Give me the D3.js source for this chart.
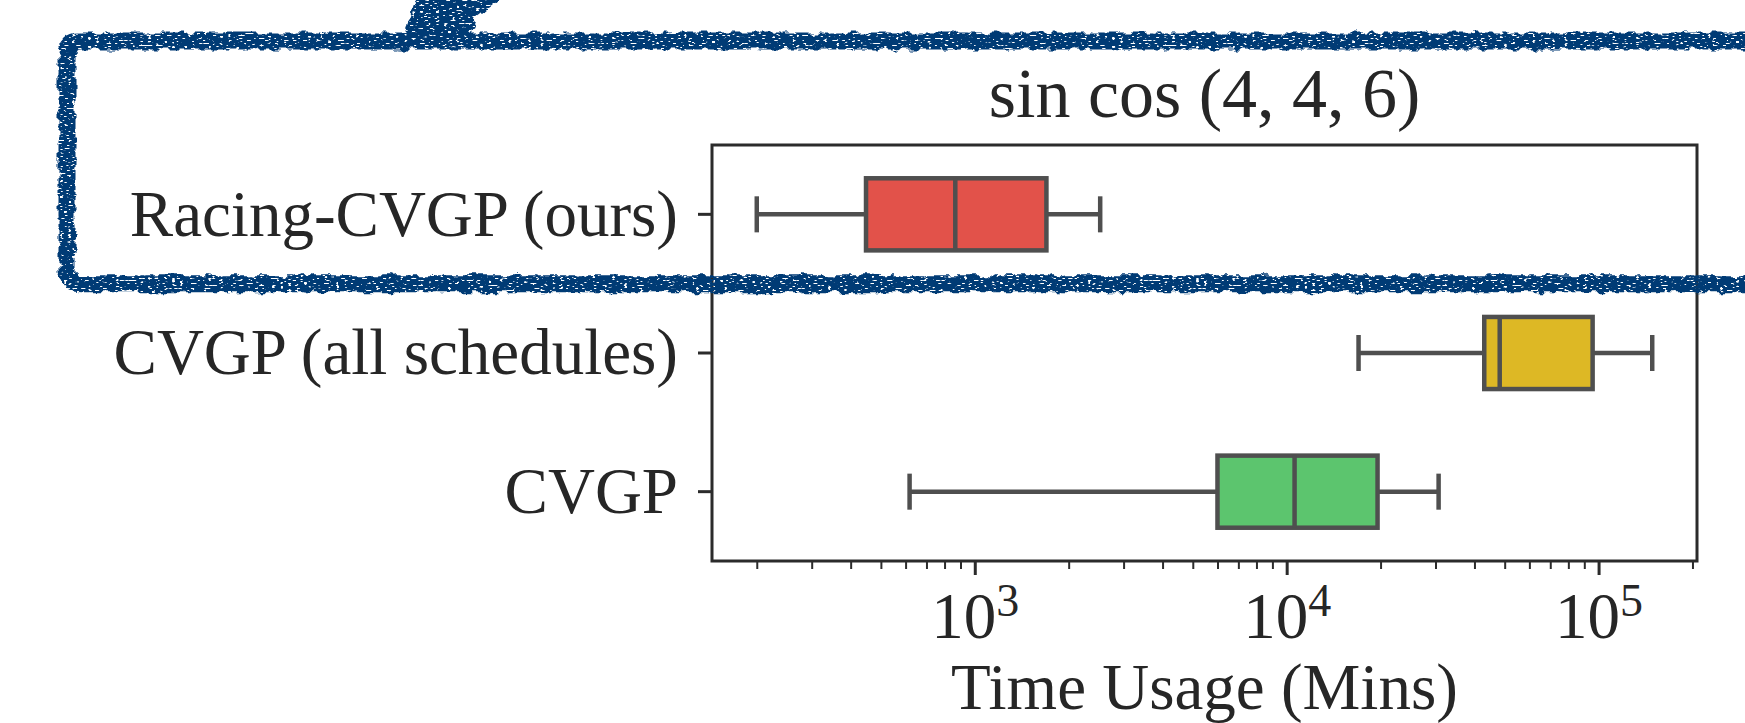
<!DOCTYPE html>
<html>
<head>
<meta charset="utf-8">
<script src="https://cdn.jsdelivr.net/npm/d3@7/dist/d3.min.js"></script>
<style>
    body { margin: 0; background: #ffffff; }
    svg { display: block; }
    text { font-family: "Liberation Serif", "Times New Roman", serif; fill: #262626; }
</style>
</head>
<body>
<div id="chart"></div>
<script>
// box statistics (minutes)
var categories = ['Racing-CVGP (ours)', 'CVGP (all schedules)', 'CVGP'];
var whiskerLow = [200, 17000, 618];
var q1 = [448, 43000, 6000];
var median = [866, 48200, 10600];
var q3 = [1697, 95700, 19560];
var whiskerHigh = [2524, 148600, 30700];
var majorTicks = [1e3, 1e4, 1e5];
var majorExponents = ['3', '4', '5'];
var palette = ['#e2524a', '#ddb825', '#5cc56e'];

var chartTitle = 'sin cos (4, 4, 6)';
var xTitle = 'Time Usage (Mins)';

var width = 1745, height = 723;
var margin = { left: 712, right: 48, top: 145, bottom: 162 };
var lineColor = '#4f4f4f';
var spineColor = '#2b2b2b';
var navy = '#003a75';

var data = categories.map(function (c, i) {
    return { name: c, lo: whiskerLow[i], q1: q1[i], med: median[i], q3: q3[i], hi: whiskerHigh[i], color: palette[i] };
});

// matplotlib-like 5% margin on a log axis
var logMin = Math.log10(d3.min(whiskerLow));
var logMax = Math.log10(d3.max(whiskerHigh));
var pad = (logMax - logMin) * 0.05;

var x = d3.scaleLog()
.domain([Math.pow(10, logMin - pad), Math.pow(10, logMax + pad)])
.range([margin.left, width - margin.right]);

var y = d3.scaleBand()
.domain(categories)
.range([margin.top, height - margin.bottom]);

var boxH = y.bandwidth() * 0.52;

var svg = d3.select('#chart').append('svg')
.attr('width', width)
.attr('height', height);

// rough marker texture for the highlight
var defs = svg.append('defs');
var filter = defs.append('filter')
.attr('id', 'rough')
.attr('filterUnits', 'userSpaceOnUse')
.attr('x', 0).attr('y', 0).attr('width', width).attr('height', height);
filter.append('feTurbulence')
.attr('type', 'fractalNoise')
.attr('baseFrequency', 0.1)
.attr('numOctaves', 2)
.attr('seed', 4)
.attr('result', 'noise');
filter.append('feDisplacementMap')
.attr('in', 'SourceGraphic')
.attr('in2', 'noise')
.attr('scale', 9)
.attr('xChannelSelector', 'R')
.attr('yChannelSelector', 'G')
.attr('result', 'disp');
filter.append('feTurbulence')
.attr('type', 'fractalNoise')
.attr('baseFrequency', '0.25 0.6')
.attr('numOctaves', 1)
.attr('seed', 11)
.attr('result', 'n2');
filter.append('feColorMatrix')
.attr('in', 'n2')
.attr('type', 'matrix')
.attr('values', '0 0 0 0 0  0 0 0 0 0  0 0 0 0 0  14 0 0 0 -8.6')
.attr('result', 'holes');
filter.append('feComposite')
.attr('in', 'disp')
.attr('in2', 'holes')
.attr('operator', 'out');

var xMin = x.range()[0], xMax = x.range()[1];
var yMin = y.range()[0], yMax = y.range()[1];

// boxes
var boxes = svg.append('g').attr('class', 'boxes');
var g = boxes.selectAll('g')
.data(data)
.enter()
.append('g');

g.append('line')
.attr('x1', function (d) { return x(d.lo); })
.attr('x2', function (d) { return x(d.q1); })
.attr('y1', function (d) { return y(d.name) + y.bandwidth() / 2; })
.attr('y2', function (d) { return y(d.name) + y.bandwidth() / 2; });
g.append('line')
.attr('x1', function (d) { return x(d.q3); })
.attr('x2', function (d) { return x(d.hi); })
.attr('y1', function (d) { return y(d.name) + y.bandwidth() / 2; })
.attr('y2', function (d) { return y(d.name) + y.bandwidth() / 2; });
['lo', 'hi'].forEach(function (k) {
    g.append('line')
    .attr('x1', function (d) { return x(d[k]); })
    .attr('x2', function (d) { return x(d[k]); })
    .attr('y1', function (d) { return y(d.name) + y.bandwidth() / 2 - boxH / 4; })
    .attr('y2', function (d) { return y(d.name) + y.bandwidth() / 2 + boxH / 4; });
});
g.append('rect')
.attr('x', function (d) { return x(d.q1); })
.attr('width', function (d) { return x(d.q3) - x(d.q1); })
.attr('y', function (d) { return y(d.name) + (y.bandwidth() - boxH) / 2; })
.attr('height', boxH)
.attr('fill', function (d) { return d.color; });
g.append('line')
.attr('x1', function (d) { return x(d.med); })
.attr('x2', function (d) { return x(d.med); })
.attr('y1', function (d) { return y(d.name) + (y.bandwidth() - boxH) / 2; })
.attr('y2', function (d) { return y(d.name) + (y.bandwidth() + boxH) / 2; });
g.selectAll('line, rect')
.attr('stroke', lineColor)
.attr('stroke-width', 4.5)
.attr('stroke-linecap', 'butt');

// frame
svg.append('rect')
.attr('x', xMin)
.attr('y', yMin)
.attr('width', xMax - xMin)
.attr('height', yMax - yMin)
.attr('fill', 'none')
.attr('stroke', spineColor)
.attr('stroke-width', 3);

// x axis: minor then major ticks
var minor = [];
for (var e = 2; e <= 5; e++) {
    for (var m = 2; m <= 9; m++) {
        var v = m * Math.pow(10, e);
        if (v >= x.domain()[0] && v <= x.domain()[1]) minor.push(v);
    }
}
var minorAxis = svg.append('g')
.attr('transform', 'translate(0,' + yMax + ')')
.call(d3.axisBottom(x).tickValues(minor).tickFormat('').tickSize(8).tickSizeOuter(0));
minorAxis.select('.domain').remove();
minorAxis.selectAll('.tick line').attr('stroke', spineColor).attr('stroke-width', 2);

var majorAxis = svg.append('g')
.attr('transform', 'translate(0,' + yMax + ')')
.call(d3.axisBottom(x).tickValues(majorTicks).tickFormat('').tickSize(14).tickSizeOuter(0));
majorAxis.select('.domain').remove();
majorAxis.selectAll('.tick line').attr('stroke', spineColor).attr('stroke-width', 3);
majorAxis.selectAll('.tick text').remove();
majorAxis.selectAll('.tick').each(function (d, i) {
    var t = d3.select(this).append('text')
    .attr('y', 77)
    .attr('text-anchor', 'middle')
    .attr('font-size', 65)
    .attr('fill', '#262626');
    t.append('tspan').text('10');
    t.append('tspan').attr('font-size', 46).attr('dy', -22).text(majorExponents[i]);
});

// y axis
var yAxis = svg.append('g')
.attr('transform', 'translate(' + xMin + ',0)')
.call(d3.axisLeft(y).tickSize(14).tickPadding(20).tickSizeOuter(0));
yAxis.select('.domain').remove();
yAxis.selectAll('.tick line').attr('stroke', spineColor).attr('stroke-width', 3);
yAxis.selectAll('.tick text')
.attr('font-size', 65)
.attr('dy', '0.33em')
.attr('fill', '#262626');

// titles
svg.append('text')
.attr('x', (xMin + xMax) / 2)
.attr('y', 117)
.attr('text-anchor', 'middle')
.attr('font-size', 70)
.text(chartTitle);

svg.append('text')
.attr('x', (xMin + xMax) / 2)
.attr('y', 709)
.attr('text-anchor', 'middle')
.attr('font-size', 65)
.text(xTitle);

// hand drawn highlight around the first row
var hl = { left: 67, top: 41, bottom: y(categories[0]) + y.bandwidth(), right: width + 60, r: 14 };
var note = svg.append('g').attr('filter', 'url(#rough)');
note.append('path')
.attr('d', 'M' + (hl.right) + ',' + hl.top +
    ' L' + (hl.left + hl.r) + ',' + hl.top +
    ' Q' + hl.left + ',' + hl.top + ' ' + hl.left + ',' + (hl.top + hl.r) +
    ' L' + hl.left + ',' + (hl.bottom - hl.r) +
    ' Q' + hl.left + ',' + hl.bottom + ' ' + (hl.left + hl.r) + ',' + hl.bottom +
    ' L' + hl.right + ',' + hl.bottom)
.attr('fill', 'none')
.attr('stroke', navy)
.attr('stroke-width', 17);
// brush stroke tail leaving the top edge
note.append('path')
.attr('d', 'M400,' + (hl.top + 6) + ' L412,12 L418,-6 L505,-6 L476,18 L468,' + (hl.top - 2) + ' Z')
.attr('fill', navy);
</script>
</body>
</html>
